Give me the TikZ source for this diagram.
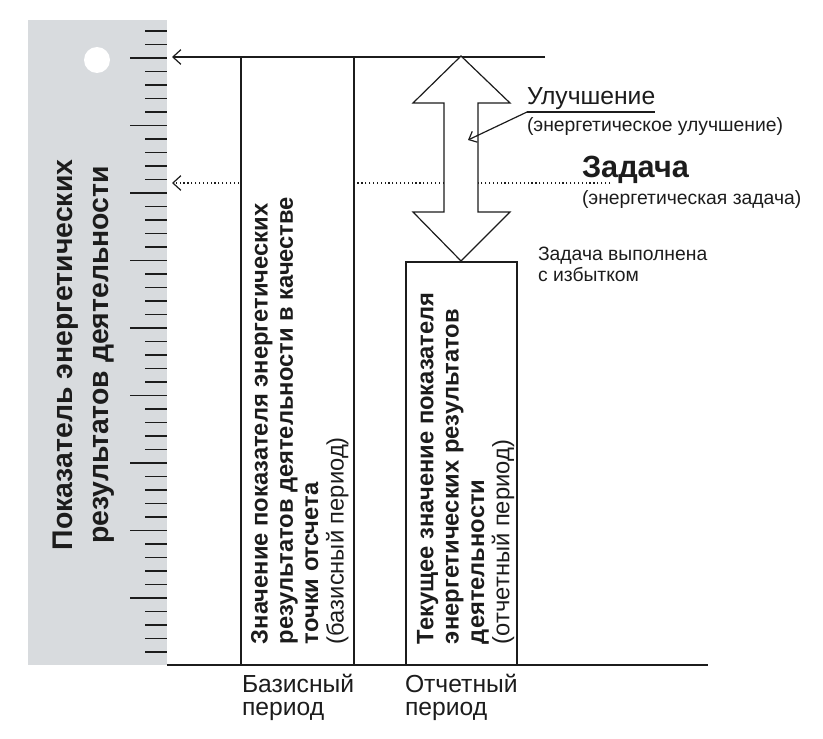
\documentclass[tikz,border=0pt]{standalone}
\usepackage{fontspec}
\setmainfont{Liberation Sans}
\usetikzlibrary{arrows.meta,positioning}
\definecolor{ruler}{HTML}{D8DBDE}
\definecolor{ink}{HTML}{1C1C1C}

\begin{document}
\begin{tikzpicture}[x=0.75pt,y=-0.75pt, every node/.style={inner sep=0pt,outer sep=0pt,text=ink}, bar/.style={draw=ink,fill=white,line width=0.9pt,anchor=south west}, arr/.style={-{Straight Barb[length=6pt,width=11pt]},line width=0.9pt,ink}, vtext/.style={rotate=90,anchor=north west,align=left,font=\bfseries\fontsize{17.8}{19}\selectfont}, note/.style={anchor=base west,font=\fontsize{14.5}{15}\selectfont}, period/.style={anchor=north west,align=left,font=\fontsize{18.5}{17.5}\selectfont}, tick/.style={line width=1.4pt,ink}]
\useasboundingbox (0,0) rectangle (823,738);
\node[fill=ruler,anchor=north west,minimum width=104.25pt,minimum height=483.75pt] (ruler) at (28,20) {};
\fill[white] (97,60) circle (9.75pt);
\foreach \i in {-2,...,44}{\pgfmathsetmacro\len{mod(\i,5)==0?37:22}\draw[tick] (167-\len,58+13.5*\i) -- (167,58+13.5*\i);}
\node[rotate=90,align=center,font=\bfseries\fontsize{21.3}{27}\selectfont] (axis) at (84,355) {Показатель энергетических\\результатов деятельности};
\coordinate (topend) at (545,57);
\coordinate (taskend) at (610,183);
\draw[arr] (topend) -- ([xshift=3.75pt]ruler.east |- topend);
\draw[arr,dotted] (taskend) -- ([xshift=3.75pt]ruler.east |- taskend);
\draw[line width=0.9pt,ink] (ruler.south east) -- (708,665);
\node[bar,minimum width=84.75pt,minimum height=456pt] (base) at (241,665) {};
\node[bar,minimum width=83.25pt,minimum height=302.25pt] (current) at (406,665) {};
\node[vtext] (basetext) at (251,644) {Значение показателя энергетических\\результатов деятельности в качестве\\точки отсчета\\{\mdseries(базисный период)}};
\node[vtext] (currenttext) at (417,644) {Текущее значение показателя\\энергетических результатов\\деятельности\\{\mdseries(отчетный период)}};
\draw[line width=0.9pt,ink,fill=white] (461,56) coordinate (goal) -- (510,103) -- (478,103) -- (478,212) -- (510,212) -- (461,261) coordinate (fact) -- (413,212) -- (444,212) -- (444,103) -- (413,103) -- cycle;
\coordinate (shaft) at (468,140);
\node[anchor=base west,font=\fontsize{18.5}{20}\selectfont] (improve) at (527,105) {Улучшение};
\draw[line width=0.9pt,ink] ([yshift=-5.25pt]improve.base west) coordinate (ul) -- ([yshift=-5.25pt]improve.base east);
\draw[arr,-{Straight Barb[length=5pt,width=9pt]}] (ul) -- (shaft);
\node[note] (improvenote) at (527,132) {(энергетическое улучшение)};
\node[anchor=base west,font=\bfseries\fontsize{23}{24}\selectfont] (task) at (582,177) {Задача};
\node[note] (tasknote) at (582,204) {(энергетическая задача)};
\node[anchor=north west,align=left,font=\fontsize{14.5}{15.5}\selectfont] (done) at (538,247) {Задача выполнена\\с избытком};
\node[period] (baselabel) at (242,674) {Базисный\\период};
\node[period] (currentlabel) at (405,674) {Отчетный\\период};
\end{tikzpicture}
\end{document}
